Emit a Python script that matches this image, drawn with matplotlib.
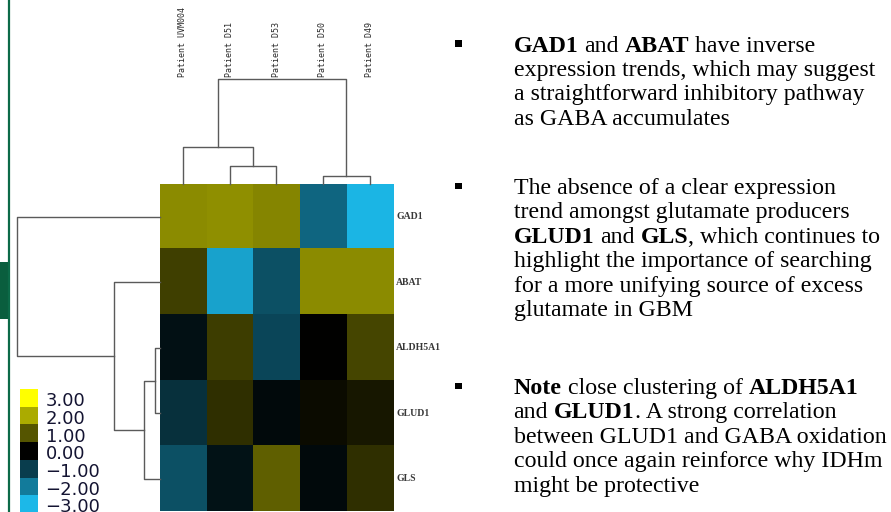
import matplotlib
matplotlib.use('Agg')
import matplotlib.pyplot as plt
import numpy as np
from matplotlib.colors import LinearSegmentedColormap
from matplotlib.patches import Rectangle
from matplotlib.font_manager import FontProperties

W, H = 891, 512

# ---- data ----
patients = ['Patient UVM004', 'Patient D51', 'Patient D53', 'Patient D50', 'Patient D49']
genes = ['GAD1', 'ABAT', 'ALDH5A1', 'GLUD1', 'GLS']
expr = np.array([
    [1.62, 1.67, 1.56, -1.66, -2.95],
    [0.73, -2.64, -1.29, 1.62, 1.63],
    [-0.26, 0.71, -1.14, 0.00, 0.80],
    [-0.78, 0.56, -0.15, 0.12, 0.28],
    [-1.30, -0.29, 1.12, -0.16, 0.54],
])
# merges: (node a, node b, distance); new nodes get the next index
col_links = [(3, 4, 0.076), (1, 2, 0.171), (0, 6, 0.35), (7, 5, 1.0)]
row_links = [(2, 3, 0.032), (5, 4, 0.111), (1, 6, 0.318), (0, 7, 1.0)]
legend_vals = [3, 2, 1, 0, -1, -2, -3]

bullets = [
    ["**GAD1** and **ABAT** have inverse",
     "expression trends, which may suggest",
     "a straightforward inhibitory pathway",
     "as GABA accumulates"],
    ["The absence of a clear expression",
     "trend amongst glutamate producers",
     "**GLUD1** and **GLS**, which continues to",
     "highlight the importance of searching",
     "for a more unifying source of excess",
     "glutamate in GBM"],
    ["**Note** close clustering of **ALDH5A1**",
     "and **GLUD1**. A strong correlation",
     "between GLUD1 and GABA oxidation",
     "could once again reinforce why IDHm",
     "might be protective"],
]

cmap = LinearSegmentedColormap.from_list('cy_bk_ye', ['#1cb8e8', '#000000', '#ffff00'])
line_col = '#5a5a5a'

fig = plt.figure(figsize=(W / 100, H / 100), dpi=100)


def px_axes(x0, y0, x1, y1):
    # box given in pixels, y measured from the top
    return fig.add_axes([x0 / W, 1 - y1 / H, (x1 - x0) / W, (y1 - y0) / H])


# overlay in pixel units for slide bits
ov = px_axes(0, 0, W, H)
ov.set_xlim(0, W)
ov.set_ylim(H, 0)
ov.axis('off')

# slide border decoration
ov.plot([9, 9], [0, H], color='#0c6a48', lw=1.6)
ov.add_patch(Rectangle((0, 262), 8, 57, color='#0a5e3e', lw=0))
ov.add_patch(Rectangle((7.5, 262), 1.5, 57, color='#4262aa', lw=0))

# heatmap
hx0, hx1, hy0, hy1 = 159.5, 393, 184, 511.5
ax = px_axes(hx0, hy0, hx1, hy1)
ax.imshow(expr, cmap=cmap, vmin=-3, vmax=3, aspect='auto', interpolation='nearest')
ax.axis('off')
for i, g in enumerate(genes):
    ax.annotate(g, xy=(4.5, i), xytext=(2.3, 0), textcoords='offset points',
                ha='left', va='center', fontsize=7, fontweight='bold',
                family='Liberation Serif', color='#383838')
for j, p in enumerate(patients):
    ax.annotate(p, xy=(j, -0.5), xytext=(0, (hy0 - 77) * 0.72), textcoords='offset points',
                rotation=90, ha='center', va='bottom', fontsize=6,
                family='DejaVu Sans Mono', color='#2a2a2a', annotation_clip=False)


def dendro(a, links, n, top):
    pos = list(range(n))
    hgt = [0.0] * n
    for na, nb, h in links:
        xs = [pos[na], pos[na], pos[nb], pos[nb]]
        ys = [hgt[na], h, h, hgt[nb]]
        if top:
            a.plot(xs, ys, color=line_col, lw=1.0, clip_on=False)
        else:
            a.plot(ys, xs, color=line_col, lw=1.0, clip_on=False)
        pos.append((pos[na] + pos[nb]) / 2)
        hgt.append(h)


cax = px_axes(hx0, 79, hx1, hy0)
dendro(cax, col_links, len(patients), True)
cax.set_xlim(-0.5, 4.5)
cax.set_ylim(0, 1.0)
cax.axis('off')

rax = px_axes(17.3, hy0, hx0, hy1)
dendro(rax, row_links, len(genes), False)
rax.set_ylim(4.5, -0.5)
rax.set_xlim(1.0, 0)
rax.axis('off')

# colour legend
sw = 17.7
lax = px_axes(20, 389, 38, 389 + sw * len(legend_vals))
lax.imshow(np.array(legend_vals)[:, None], cmap=cmap, vmin=-3, vmax=3,
           aspect='auto', interpolation='nearest')
lax.axis('off')
for i, v in enumerate(legend_vals):
    lab = f'{v:.2f}'.replace('-', '\u2212')
    lax.annotate(lab, xy=(0.5, i + 0.5), xytext=(5.4, 0.3), textcoords='offset points',
                 ha='left', va='baseline', fontsize=13, family='DejaVu Sans',
                 color='#141432', annotation_clip=False)

# bullet text
renderer = fig.canvas.get_renderer()
fs = 17.2
reg = FontProperties(family='Liberation Serif', size=fs)
bld = FontProperties(family='Liberation Serif', size=fs, weight='bold')


def text_w(s, prop):
    return renderer.get_text_width_height_descent(s, prop, False)[0]


def space_w(prop):
    return text_w('a a', prop) - text_w('aa', prop)


def put_line(x, y, line):
    parts = line.split('**')
    for k, piece in enumerate(parts):
        if not piece:
            continue
        prop = bld if k % 2 else reg
        lead = len(piece) - len(piece.lstrip(' '))
        trail = len(piece) - len(piece.rstrip(' '))
        core = piece.strip(' ')
        x += lead * space_w(prop)
        ov.text(x, y, core, fontproperties=prop, ha='left', va='baseline', color='black')
        x += text_w(core, prop) + trail * space_w(prop)


tx = 513.5
lsp = 24.4
first_base = [51.5, 194, 394]
for para, b0 in zip(bullets, first_base):
    ov.add_patch(Rectangle((455, b0 - 11.5), 6.8, 6.5, color='black', lw=0))
    for k, line in enumerate(para):
        put_line(tx, b0 + k * lsp, line)

fig.savefig('out.png', dpi=100)
